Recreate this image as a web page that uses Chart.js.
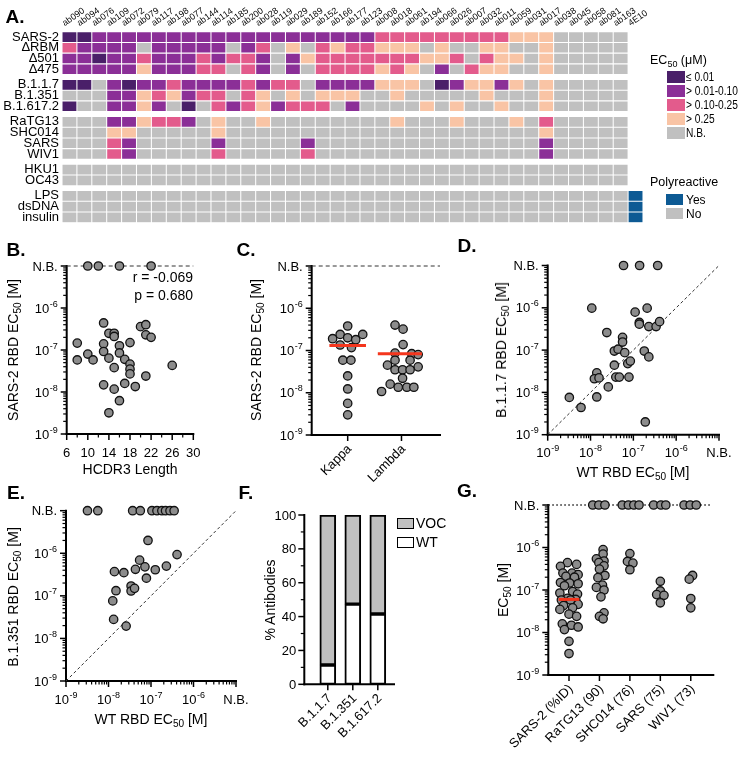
<!DOCTYPE html>
<html>
<head>
<meta charset="utf-8">
<script src="https://cdn.jsdelivr.net/npm/chart.js@4.4.1/dist/chart.umd.min.js"></script>
<style>
  html, body { margin:0; padding:0; background:#fff; }
  #page { position:relative; width:744px; height:759px; overflow:hidden; background:#fff;
          font-family:"Liberation Sans", Arial, Helvetica, sans-serif; color:#000; }
  #page canvas { position:absolute; left:0; top:0; }
  .t { position:absolute; white-space:nowrap; line-height:1; }
  .cc { transform:translate(-50%,-50%); }
  .lc { transform:translate(0,-50%); }
  .rc { transform:translate(-100%,-50%); }
  .rot { transform:translate(-50%,-50%) rotate(-90deg); }
  .pl { font-weight:bold; font-size:19px; }
  .ttl { font-size:14px; }
  sub { font-size:72%; vertical-align:-0.28em; line-height:0; }
  .sw { position:absolute; box-sizing:border-box; }
  .lg { font-size:12px; transform-origin:0 50%; }
</style>
</head>
<body>
<div id="page">
  <canvas id="cA" width="744" height="759"></canvas>
  <canvas id="cB" width="744" height="759"></canvas>
  <canvas id="cC" width="744" height="759"></canvas>
  <canvas id="cD" width="744" height="759"></canvas>
  <canvas id="cE" width="744" height="759"></canvas>
  <canvas id="cF" width="744" height="759"></canvas>
  <canvas id="cG" width="744" height="759"></canvas>

  <div class="t pl cc" style="left:15px;top:16px">A.</div>
  <div class="t pl cc" style="left:16px;top:249px">B.</div>
  <div class="t pl cc" style="left:246px;top:249px">C.</div>
  <div class="t pl cc" style="left:467px;top:245px">D.</div>
  <div class="t pl cc" style="left:16px;top:492px">E.</div>
  <div class="t pl cc" style="left:246px;top:492px">F.</div>
  <div class="t pl cc" style="left:467px;top:490px">G.</div>

  <div class="t lg" style="left:650px;top:54px;font-size:12.5px">EC<sub>50</sub> (μM)</div>
  <div id="ecLegend"></div>
  <div class="t" style="left:650px;top:176px;font-size:12.5px">Polyreactive</div>
  <div id="polyLegend"></div>

  <div class="t ttl rot" style="left:13px;top:350px">SARS-2 RBD EC<sub>50</sub> [M]</div>
  <div class="t ttl cc" style="left:130px;top:469px">HCDR3 Length</div>
  <div class="t ttl rc" style="left:193px;top:277px">r = -0.069</div>
  <div class="t ttl rc" style="left:193px;top:295px">p = 0.680</div>

  <div class="t ttl rot" style="left:256px;top:350px">SARS-2 RBD EC<sub>50</sub> [M]</div>

  <div class="t ttl rot" style="left:501px;top:350px">B.1.1.7 RBD EC<sub>50</sub> [M]</div>
  <div class="t ttl cc" style="left:633px;top:472px">WT RBD EC<sub>50</sub> [M]</div>

  <div class="t ttl rot" style="left:13px;top:597px">B.1.351 RBD EC<sub>50</sub> [M]</div>
  <div class="t ttl cc" style="left:151px;top:719px">WT RBD EC<sub>50</sub> [M]</div>

  <div class="t ttl rot" style="left:270px;top:600px">% Antibodies</div>
  <div class="sw" style="left:397px;top:518px;width:17px;height:11px;border:1.5px solid #000;background:#c0c0c0"></div>
  <div class="t lc" style="left:416px;top:523px;font-size:14px">VOC</div>
  <div class="sw" style="left:397px;top:537px;width:17px;height:11px;border:1.5px solid #000;background:#fff"></div>
  <div class="t lc" style="left:416px;top:542px;font-size:14px">WT</div>

  <div class="t ttl rot" style="left:503px;top:590px">EC<sub>50</sub> [M]</div>
</div>

<script>
// ======================= DATA =======================
const antibodies = ['ab090','ab094','ab076','ab109','ab072','ab079','ab117','ab198','ab077','ab144',
  'ab114','ab185','ab200','ab028','ab119','ab029','ab189','ab152','ab166','ab177',
  'ab123','ab008','ab018','ab061','ab194','ab066','ab026','ab007','ab032','ab011',
  'ab059','ab031','ab017','ab038','ab045','ab058','ab081','ab163','4E10'];

// EC50 class per antibody (4E10 not tested for binding):
// 0 = N.B., 1 = > 0.25, 2 = > 0.10-0.25, 3 = > 0.01-0.10, 4 = <= 0.01 uM
const ecSars2    = [4,4,3,3,3,3,3,3,3,3, 3,3,3,3,3,3,3,3,3,3, 3,2,2,2,2,2,2,2,2,2, 1,1,1,0,0,0,0,0];
const ecDeltaRBM = [2,3,3,3,3,0,3,3,3,3, 3,0,3,2,0,1,0,2,1,2, 2,1,1,1,0,1,0,0,1,1, 0,0,1,0,0,0,0,0];
const ecDelta501 = [3,3,4,3,3,2,3,3,3,2, 3,2,2,3,0,3,1,2,2,2, 2,2,2,2,1,1,2,0,2,1, 1,0,1,0,0,0,0,0];
const ecDelta475 = [3,3,3,3,3,1,3,3,3,2, 2,0,2,3,0,3,0,2,2,2, 2,1,2,1,0,3,0,2,1,1, 0,0,1,0,0,0,0,0];
const ecB117     = [4,4,0,3,4,3,3,2,3,3, 3,3,2,3,2,2,0,3,3,3, 3,1,1,1,0,4,3,1,1,3, 1,0,1,0,0,0,0,0];
const ecB1351    = [0,0,0,3,3,1,2,1,3,2, 2,0,2,1,0,1,0,1,1,1, 0,0,1,0,0,0,0,0,1,0, 0,0,1,0,0,0,0,0];
const ecB16172   = [4,0,0,3,3,1,3,0,4,0, 2,3,2,1,3,2,2,2,0,3, 0,0,0,0,1,0,1,0,0,1, 0,0,1,0,0,0,0,0];
const ecRaTG13   = [0,0,0,3,3,1,2,2,3,0, 1,0,0,1,0,0,0,0,0,0, 0,0,1,0,0,0,1,0,0,0, 1,0,2,0,0,0,0,0];
const ecSHC014   = [0,0,0,1,1,0,0,0,0,0, 1,0,0,0,0,0,0,0,0,0, 0,0,0,0,0,0,0,0,0,0, 0,0,1,0,0,0,0,0];
const ecSARS     = [0,0,0,2,3,0,0,0,0,0, 3,0,0,0,0,0,3,0,0,0, 0,0,0,0,0,0,0,0,0,0, 0,0,3,0,0,0,0,0];
const ecWIV1     = [0,0,0,2,3,0,0,0,0,0, 2,0,0,0,0,0,2,0,0,0, 0,0,0,0,0,0,0,0,0,0, 0,0,3,0,0,0,0,0];
const ecHKU1     = [0,0,0,0,0,0,0,0,0,0, 0,0,0,0,0,0,0,0,0,0, 0,0,0,0,0,0,0,0,0,0, 0,0,0,0,0,0,0,0];
const ecOC43     = [0,0,0,0,0,0,0,0,0,0, 0,0,0,0,0,0,0,0,0,0, 0,0,0,0,0,0,0,0,0,0, 0,0,0,0,0,0,0,0];
// Polyreactivity: 0 = No, 1 = Yes
const polyLPS     = [0,0,0,0,0,0,0,0,0,0, 0,0,0,0,0,0,0,0,0,0, 0,0,0,0,0,0,0,0,0,0, 0,0,0,0,0,0,0,0,1];
const polyDsDNA   = [0,0,0,0,0,0,0,0,0,0, 0,0,0,0,0,0,0,0,0,0, 0,0,0,0,0,0,0,0,0,0, 0,0,0,0,0,0,0,0,1];
const polyInsulin = [0,0,0,0,0,0,0,0,0,0, 0,0,0,0,0,0,0,0,0,0, 0,0,0,0,0,0,0,0,0,0, 0,0,0,0,0,0,0,0,1];

const ecClassLabels = ['N.B.', '> 0.25', '> 0.10-0.25', '> 0.01-0.10', '≤ 0.01'];
const polyLabels = ['No', 'Yes'];

// Non-binders are plotted on the "N.B." row/column (top of the log axes)
const NB = 1e-5;

// B. HCDR3 length vs SARS-2 RBD EC50 [M]
const hcdr3Length = [8, 8, 10, 11, 13, 13, 13, 13, 14, 14, 14, 15, 15, 15, 15, 16, 16, 16, 17, 17,
  18, 18, 18, 18, 19, 20, 21, 21, 21, 22, 26, 10, 12, 16, 22];
const hcdr3Ec50 = [1.46e-7, 5.8e-8, 8.0e-8, 5.8e-8, 4.4e-7, 1.4e-7, 9.2e-8, 1.48e-8, 2.5e-7, 6.4e-8,
  3.2e-9, 2.5e-7, 2.1e-7, 3.8e-8, 1.17e-8, 1.26e-7, 8.5e-8, 6.2e-9, 6.0e-8, 1.6e-8,
  1.5e-7, 4.6e-8, 3.5e-8, 2.7e-8, 1.35e-8, 3.6e-7, 4.0e-7, 2.3e-7, 2.4e-8, 2.0e-7, 4.3e-8,
  NB, NB, NB, NB];

// C. light chain
const lightChains = ['Kappa', 'Lambda'];
const kappaEc50   = [3.8e-7, 2.4e-7, 2.4e-7, 1.9e-7, 2.0e-7, 1.8e-7, 1.35e-7, 1.17e-7, 5.9e-8, 5.9e-8, 2.5e-8, 1.23e-8, 5.6e-9, 3.0e-9];
const kappaJitter = [0, -0.14, 0.28, -0.28, 0, 0.15, -0.14, 0.07, -0.09, 0.06, 0, 0, 0, 0];
const lambdaEc50  = [4.0e-7, 3.2e-7, 1.38e-7, 8.7e-8, 8.4e-8, 8.0e-8, 4.5e-8, 4.1e-8, 5.9e-8, 5.9e-8,
  3.5e-8, 3.5e-8, 3.5e-8, 2.2e-8, 1.6e-8, 1.35e-8, 1.35e-8, 1.35e-8, 1.07e-8];
const lambdaJitter = [-0.12, 0.03, 0.03, -0.12, 0.19, 0.31, -0.26, 0.31, -0.12, 0.16,
  -0.12, 0.02, 0.16, 0.02, -0.21, -0.06, 0.10, 0.23, -0.37];
const lightMedians = [1.32e-7, 8.4e-8];

// D. WT vs B.1.1.7 RBD EC50 [M]
const dWtEc50 = [3.2e-9, 6.0e-9, 1.07e-8, 1.4e-8, 1.23e-8, 1.58e-8, 1.4e-8, 2.4e-8, 2.6e-8, 3.6e-8,
  3.6e-8, 4.4e-8, 3.9e-8, 4.7e-8, 5.6e-8, 5.6e-8, 6.3e-8, 7.4e-8, 8.5e-8, 7.9e-8,
  1.1e-7, 1.38e-7, 1.38e-7, 2.1e-7, 1.8e-7, 2.3e-7, 2.3e-7, 3.4e-7, 4.1e-7, 1.9e-7,
  5.9e-8, 1.4e-7, 3.7e-7];
const b117Ec50 = [7.6e-9, 4.4e-9, 9.8e-7, 2.9e-8, 2.1e-8, 2.2e-8, 7.8e-9, 2.6e-7, 1.35e-8, 4.4e-8,
  9.5e-8, 1.05e-7, 2.3e-8, 2.3e-8, 2.0e-7, 1.55e-7, 8.7e-8, 4.8e-8, 5.5e-8, 2.3e-8,
  7.9e-7, 4.5e-7, 4.1e-7, 9.8e-7, 9.5e-8, 6.9e-8, 3.6e-7, 3.6e-7, 4.7e-7, 2.0e-9,
  NB, NB, NB];

// E. WT vs B.1.351 RBD EC50 [M]
const eWtEc50 = [8.5e-8, 4.1e-7, 5.4e-8, 1.38e-8, 2.3e-8, 4.3e-8, 7.2e-8, 1.26e-7, 2.3e-7, 7.8e-8,
  3.4e-8, 3.4e-8, 4.1e-8, 1.5e-8, 1.26e-8, 1.32e-8, 2.6e-8,
  3.2e-9, 5.6e-9, 3.7e-8, 5.6e-8, 1.05e-7, 1.38e-7, 1.8e-7, 2.2e-7, 2.8e-7, 3.5e-7];
const b1351Ec50 = [2.0e-6, 9.3e-7, 6.9e-7, 3.7e-7, 3.5e-7, 4.2e-7, 4.8e-7, 4.1e-7, 5.0e-7, 2.6e-7,
  1.7e-7, 1.3e-7, 1.5e-7, 1.32e-7, 7.6e-8, 2.8e-8, 1.95e-8,
  NB, NB, NB, NB, NB, NB, NB, NB, NB, NB];

// F. % antibodies (WT-like vs VOC-affected)
const variants = ['B.1.1.7', 'B.1.351', 'B.1.617.2'];
const wtPct  = [11.4, 47.4, 41.5];
const vocPct = [88.6, 52.6, 58.5];

// G. EC50 against sarbecovirus RBDs
const sarbecoNames = ['SARS-2 (%ID)', 'RaTG13 (90)', 'SHC014 (76)', 'SARS (75)', 'WIV1 (73)'];
const gSars2 = [4.4e-7, 4.0e-7, 3.6e-7, 2.5e-7, 2.5e-7, 2.3e-7, 2.1e-7, 2.0e-7, 1.5e-7, 1.46e-7,
  1.4e-7, 1.26e-7, 9.2e-8, 8.5e-8, 8.0e-8, 6.4e-8, 6.0e-8, 5.8e-8, 5.8e-8, 4.6e-8,
  4.3e-8, 3.8e-8, 3.5e-8, 2.7e-8, 2.4e-8, 1.6e-8, 1.48e-8, 1.35e-8, 1.17e-8, 6.2e-9, 3.2e-9];
const gSars2Jitter = [-0.05, 0.25, -0.28, 0.1, -0.2, 0.3, -0.1, 0.18, -0.28, 0.02,
  0.3, -0.15, 0.12, -0.3, 0.28, -0.05, 0.22, -0.25, 0.05, 0.3,
  -0.18, 0.12, -0.3, 0.0, 0.25, -0.22, 0.08, 0.3, -0.15, 0.0, 0.0];
const gRaTG13 = [8.9e-7, 7.0e-7, 5.4e-7, 4.8e-7, 4.4e-7, 3.7e-7, 3.1e-7, 2.2e-7, 1.95e-7, 1.3e-7,
  1.15e-7, 1.0e-7, 6.9e-8, 2.9e-8, 2.4e-8, 2.1e-8];
const gRaTG13Jitter = [0.12, 0.12, -0.1, 0.15, -0.02, 0.15, 0.0, 0.18, -0.05, 0.1,
  -0.1, 0.15, 0.05, 0.15, 0.0, 0.12];
const gSHC014 = [7.2e-7, 4.7e-7, 4.3e-7, 3.0e-7];
const gSHC014Jitter = [0, -0.08, 0.1, 0];
const gSARS = [1.6e-7, 9.5e-8, 7.8e-8, 7.5e-8, 5.0e-8];
const gSARSJitter = [0, 0, -0.12, 0.12, 0];
const gWIV1 = [2.2e-7, 1.8e-7, 6.3e-8, 3.8e-8];
const gWIV1Jitter = [0.06, -0.05, 0, 0];
const gNbJitter = [[], [-0.22, -0.02, 0.18], [-0.25, -0.05, 0.13, 0.3], [-0.22, 0.02, 0.18], [-0.22, -0.02, 0.18]];
const gSars2Median = 6.0e-8;

// ======================= STYLE / HELPERS =======================
const W = 744, H = 759;
const FF = '"Liberation Sans", Arial, Helvetica, sans-serif';
const EC_COLORS = ['#c0c0c0', '#f9c4a5', '#e35b8c', '#8b2f97', '#4a1f69'];
const POLY_COLORS = ['#c0c0c0', '#0d5a94'];
const RED = '#f4361d';

function baseOptions(L, T, R, B) {
  return {
    responsive: false, animation: false, devicePixelRatio: 1, events: [],
    layout: { autoPadding: false, padding: { left: L, top: T, right: W - R, bottom: H - B } },
    plugins: { legend: { display: false }, tooltip: { enabled: false }, title: { display: false } },
  };
}
function seg(ctx, x1, y1, x2, y2) { ctx.beginPath(); ctx.moveTo(x1, y1); ctx.lineTo(x2, y2); ctx.stroke(); }
function tickText(ctx, t, x, yc, align) {
  ctx.textAlign = 'left'; ctx.textBaseline = 'alphabetic';
  ctx.font = `13px ${FF}`; const w = ctx.measureText(t.text).width;
  let ws = 0;
  if (t.sup) { ctx.font = `9px ${FF}`; ws = ctx.measureText(t.sup).width + 0.5; }
  const x0 = align === 'right' ? x - w - ws : align === 'center' ? x - (w + ws) / 2 : x;
  ctx.font = `13px ${FF}`; ctx.fillText(t.text, x0, yc + 4.6);
  if (t.sup) { ctx.font = `9px ${FF}`; ctx.fillText(t.sup, x0 + w + 0.5, yc - 1.5); }
}
// Draws axis lines, tick marks and tick labels from the chart's own scales
function axesPlugin(spec) {
  const padL = (spec.pad && spec.pad.left) || 0, padR = (spec.pad && spec.pad.right) || 0;
  return {
    id: 'axesPainter',
    beforeDatasetsDraw(chart) {
      const ctx = chart.ctx, a = chart.chartArea;
      const yAxisX = a.left - padL;
      ctx.save();
      ctx.strokeStyle = '#000'; ctx.fillStyle = '#000';
      if (spec.y) {
        const s = chart.scales.y, x0 = yAxisX;
        ctx.lineWidth = 1.2;
        (spec.y.minor || []).forEach(v => { const p = s.getPixelForValue(v); seg(ctx, x0 - 3.5, p, x0, p); });
        ctx.lineWidth = 1.5;
        spec.y.major.forEach(t => {
          const p = s.getPixelForValue(t.v);
          seg(ctx, x0 - 6, p, x0, p);
          if (t.text) tickText(ctx, t, x0 - (spec.y.gap || 9), p, 'right');
        });
      }
      if (spec.x) {
        const s = chart.scales.x, y0 = a.bottom;
        ctx.lineWidth = 1.2;
        (spec.x.minor || []).forEach(v => { const p = s.getPixelForValue(v); seg(ctx, p, y0, p, y0 + 3.5); });
        ctx.lineWidth = 1.5;
        spec.x.major.forEach(t => {
          const p = s.getPixelForValue(t.v);
          seg(ctx, p, y0, p, y0 + 6);
          if (!t.text) return;
          if (spec.x.rotate) {
            ctx.save(); ctx.translate(p + 2, y0 + 12); ctx.rotate(-Math.PI / 4);
            ctx.font = `13px ${FF}`; ctx.textAlign = 'right'; ctx.textBaseline = 'middle';
            ctx.fillText(t.text, 0, 0); ctx.restore();
          } else tickText(ctx, t, p, y0 + 18, 'center');
        });
      }
      ctx.lineWidth = 2;
      if (spec.y) seg(ctx, yAxisX, a.top - 1, yAxisX, a.bottom + 1);
      if (spec.x) seg(ctx, yAxisX - 1, a.bottom, a.right + padR + 1, a.bottom);
      ctx.restore();
    }
  };
}
function logTicks() {
  const major = [-9, -8, -7, -6].map(e => ({ v: Math.pow(10, e), text: '10', sup: String(e) }));
  major.push({ v: NB, text: 'N.B.' });
  const minor = [];
  for (let e = -9; e < -5; e++) for (let k = 2; k <= 9; k++) minor.push(k * Math.pow(10, e));
  return { major, minor };
}
const logAxis = () => ({ type: 'logarithmic', min: 1e-9, max: NB, display: false });
const linAxis = (min, max) => ({ type: 'linear', min, max, display: false });
function dots(data) {
  return { data, pointRadius: 4.2, backgroundColor: '#8c8c8c', borderColor: '#111',
           pointBackgroundColor: '#8c8c8c', pointBorderColor: '#111', pointBorderWidth: 1.3,
           showLine: false, clip: false };
}
function refLine(data, opts) {
  return Object.assign({ data, showLine: true, pointRadius: 0, borderColor: '#333', borderWidth: 1,
                         borderDash: [4, 3], clip: false, fill: false }, opts);
}

// ======================= A. HEATMAP =======================
const heatGroups = [
  [['SARS-2', ecSars2], ['ΔRBM', ecDeltaRBM], ['Δ501', ecDelta501], ['Δ475', ecDelta475]],
  [['B.1.1.7', ecB117], ['B.1.351', ecB1351], ['B.1.617.2', ecB16172]],
  [['RaTG13', ecRaTG13], ['SHC014', ecSHC014], ['SARS', ecSARS], ['WIV1', ecWIV1]],
  [['HKU1', ecHKU1], ['OC43', ecOC43]],
];
const polyRows = [['LPS', polyLPS], ['dsDNA', polyDsDNA], ['insulin', polyInsulin]];
const GROUP_GAP = 0.45, INSET = 0.05;
const rows = [];
let yPos = 0;
heatGroups.forEach(g => {
  g.forEach(([name, vals]) => { rows.push({ name, vals, colors: EC_COLORS, y: yPos }); yPos += 1; });
  yPos += GROUP_GAP;
});
polyRows.forEach(([name, vals]) => { rows.push({ name, vals, colors: POLY_COLORS, y: yPos }); yPos += 1; });
const Y_MAX = yPos;

const heatDatasets = rows.map(r => ({
  label: r.name,
  data: antibodies.map((_, i) => r.vals[i] === undefined ? null : [r.y + INSET, r.y + 1 - INSET]),
  backgroundColor: antibodies.map((_, i) => r.vals[i] === undefined ? 'rgba(0,0,0,0)' : r.colors[r.vals[i]]),
  grouped: false, barPercentage: 0.93, categoryPercentage: 1, borderWidth: 0,
}));

const HEAT_LEFT = 62, HEAT_TOP = 31.7;
new Chart(document.getElementById('cA'), {
  type: 'bar',
  data: { labels: antibodies, datasets: heatDatasets },
  options: Object.assign(baseOptions(0, 0, 643, 222.7), {
    scales: {
      x: { type: 'category', position: 'top', offset: true,
           grid: { display: false, drawTicks: false }, border: { display: false },
           ticks: { autoSkip: false, minRotation: 35, maxRotation: 35, padding: 3, color: '#000',
                    font: { family: FF, size: 9 } },
           afterFit(s) { s.height = HEAT_TOP; } },
      y: { type: 'linear', min: 0, max: Y_MAX, reverse: true, bounds: 'data',
           grid: { display: false, drawTicks: false }, border: { display: false },
           afterBuildTicks(s) { s.ticks = rows.map(r => ({ value: r.y + 0.5 })); },
           ticks: { autoSkip: false, padding: 3, color: '#000', font: { family: FF, size: 13 },
                    callback: (v, i) => rows[i].name },
           afterFit(s) { s.width = HEAT_LEFT; } },
    },
  }),
});

// legends (HTML, real text)
(function buildLegends() {
  const ec = document.getElementById('ecLegend');
  const order = [4, 3, 2, 1, 0];
  order.forEach((cls, k) => {
    const top = 71 + k * 14;
    ec.insertAdjacentHTML('beforeend',
      `<div class="sw" style="left:667px;top:${top}px;width:18px;height:11.5px;background:${EC_COLORS[cls]}"></div>` +
      `<div class="t lg" style="left:686px;top:${top + 6}px;transform:translate(0,-50%) scaleX(0.85)">${ecClassLabels[cls]}</div>`);
  });
  const pl = document.getElementById('polyLegend');
  [1, 0].forEach((cls, k) => {
    const top = 194 + k * 14;
    pl.insertAdjacentHTML('beforeend',
      `<div class="sw" style="left:666px;top:${top}px;width:17px;height:11px;background:${POLY_COLORS[cls]}"></div>` +
      `<div class="t lg" style="left:686px;top:${top + 5.5}px;transform:translate(0,-50%)">${polyLabels[cls]}</div>`);
  });
})();

// ======================= B. HCDR3 =======================
new Chart(document.getElementById('cB'), {
  type: 'scatter',
  data: { datasets: [
    dots(hcdr3Length.map((x, i) => ({ x, y: hcdr3Ec50[i] }))),
    refLine([{ x: 6, y: NB }, { x: 30, y: NB }]),
  ] },
  options: Object.assign(baseOptions(66.7, 266, 193.3, 434), { scales: { x: linAxis(6, 30), y: logAxis() } }),
  plugins: [axesPlugin({ y: logTicks(),
    x: { major: [6, 10, 14, 18, 22, 26, 30].map(v => ({ v, text: String(v) })), minor: [8, 12, 16, 20, 24, 28] } })],
});

// ======================= C. Kappa / Lambda =======================
const cPoints = [
  ...kappaEc50.map((y, i) => ({ x: 1 + kappaJitter[i], y })),
  ...lambdaEc50.map((y, i) => ({ x: 2 + lambdaJitter[i], y })),
];
new Chart(document.getElementById('cC'), {
  type: 'scatter',
  data: { datasets: [
    refLine([{ x: 0.66, y: lightMedians[0] }, { x: 1.34, y: lightMedians[0] }], { borderColor: RED, borderWidth: 3, borderDash: [] }),
    refLine([{ x: 1.56, y: lightMedians[1] }, { x: 2.38, y: lightMedians[1] }], { borderColor: RED, borderWidth: 3, borderDash: [] }),
    dots(cPoints),
    refLine([{ x: 0.331, y: NB }, { x: 2.716, y: NB }]),
  ] },
  options: Object.assign(baseOptions(311.7, 266, 440, 435), { scales: { x: linAxis(0.331, 2.716), y: logAxis() } }),
  plugins: [axesPlugin({ y: logTicks(), x: { rotate: true, major: lightChains.map((text, i) => ({ v: i + 1, text })) } })],
});

// ======================= D. B.1.1.7 =======================
new Chart(document.getElementById('cD'), {
  type: 'scatter',
  data: { datasets: [
    dots(dWtEc50.map((x, i) => ({ x, y: b117Ec50[i] }))),
    refLine([{ x: 1e-9, y: 1e-9 }, { x: NB, y: NB }], { borderDash: [3, 2.5], borderColor: '#333' }),
  ] },
  options: Object.assign(baseOptions(547.7, 265.5, 719, 434.7), { scales: { x: logAxis(), y: logAxis() } }),
  plugins: [axesPlugin({ y: logTicks(), x: logTicks() })],
});

// ======================= E. B.1.351 =======================
new Chart(document.getElementById('cE'), {
  type: 'scatter',
  data: { datasets: [
    dots(eWtEc50.map((x, i) => ({ x, y: b1351Ec50[i] }))),
    refLine([{ x: 1e-9, y: 1e-9 }, { x: NB, y: NB }], { borderDash: [3, 2.5], borderColor: '#333' }),
  ] },
  options: Object.assign(baseOptions(66, 510.7, 236, 681), { scales: { x: logAxis(), y: logAxis() } }),
  plugins: [axesPlugin({ y: logTicks(), x: logTicks() })],
});

// ======================= F. stacked bars =======================
new Chart(document.getElementById('cF'), {
  type: 'bar',
  data: { labels: variants, datasets: [
    { label: 'WT', data: wtPct, backgroundColor: '#ffffff',
      borderColor: '#000', borderWidth: 2, borderSkipped: false, barThickness: 16 },
    { label: 'VOC', data: vocPct, backgroundColor: '#c0c0c0',
      borderColor: '#000', borderWidth: 2, borderSkipped: false, barThickness: 16 },
  ] },
  options: Object.assign(baseOptions(315.3, 515, 390.3, 684.3), {
    scales: { x: { type: 'category', offset: true, stacked: true, display: false },
              y: Object.assign(linAxis(0, 100), { stacked: true }) } }),
  plugins: [axesPlugin({ pad: { left: 11, right: 3.7 },
    y: { gap: 8, major: [0, 20, 40, 60, 80, 100].map(v => ({ v, text: String(v) })), minor: [10, 30, 50, 70, 90] },
    x: { rotate: true, major: variants.map((text, i) => ({ v: i, text })) } })],
});

// ======================= G. sarbecoviruses =======================
const gGroups = [
  [gSars2, gSars2Jitter], [gRaTG13, gRaTG13Jitter], [gSHC014, gSHC014Jitter],
  [gSARS, gSARSJitter], [gWIV1, gWIV1Jitter],
];
const gPoints = [];
gGroups.forEach(([vals, jit], gi) => {
  vals.forEach((y, i) => gPoints.push({ x: gi + jit[i], y }));
  gNbJitter[gi].forEach(j => gPoints.push({ x: gi + j, y: NB }));
});
new Chart(document.getElementById('cG'), {
  type: 'scatter',
  data: { datasets: [
    refLine([{ x: -0.34, y: gSars2Median }, { x: 0.34, y: gSars2Median }], { borderColor: RED, borderWidth: 3, borderDash: [] }),
    dots(gPoints),
    refLine([{ x: -0.68, y: NB }, { x: 4.67, y: NB }], { borderDash: [1.5, 2.5], borderWidth: 1.6, borderColor: '#222' }),
  ] },
  options: Object.assign(baseOptions(548.3, 505, 713.3, 675), { scales: { x: linAxis(-0.68, 4.74), y: logAxis() } }),
  plugins: [axesPlugin({ y: logTicks(), x: { rotate: true, major: sarbecoNames.map((text, i) => ({ v: i, text })) } })],
});
</script>
</body>
</html>
